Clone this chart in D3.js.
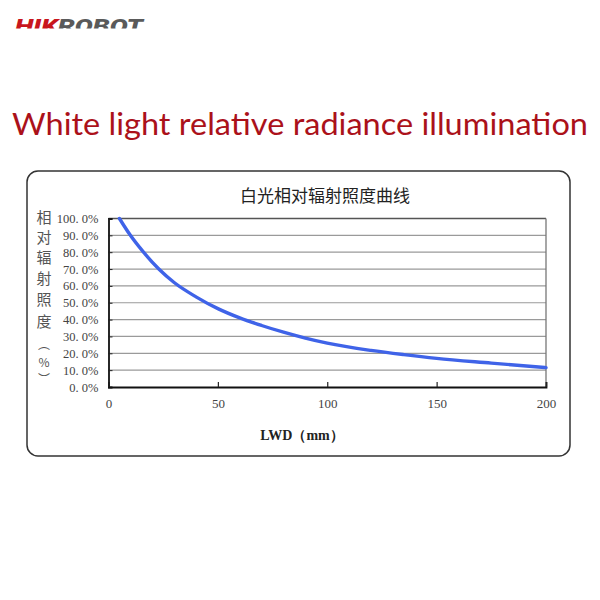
<!DOCTYPE html>
<html>
<head>
<meta charset="utf-8">
<script src="https://cdn.jsdelivr.net/npm/d3@7"></script>
<style>
  body { margin: 0; background: #fff; }
</style>
</head>
<body>
<div class="viz"></div>
<script>
// LWD (mm) vs relative irradiance (%)
const lwd = [5, 10, 16, 23, 30, 40, 50, 60, 70, 80, 90, 100, 120, 135, 150, 175, 200]
const irradiance = [100, 90, 80, 70, 62, 53.5, 46.5, 41, 36.5, 32.5, 29, 26, 21.7, 19.2, 17, 14.2, 11.5]

const xTicks = [0, 50, 100, 150, 200]
const yTicks = [0, 10, 20, 30, 40, 50, 60, 70, 80, 90, 100]

const mainTitle = 'White light relative radiance illumination'
const chartTitle = '白光相对辐射照度曲线'
const yLabelChars = ['相', '对', '辐', '射', '照', '度', '︵', '%', '︶']
const xLabel = 'LWD（mm）'

const width = 600
const height = 600
const plot = { left: 108.5, right: 546, top: 218.5, bottom: 387 }

const svg = d3.select('.viz')
  .append('svg')
  .attr('width', width)
  .attr('height', height)

// logo, cut off at the bottom like the reference
svg.append('clipPath').attr('id', 'logoClip')
  .append('rect').attr('x', 0).attr('y', 0).attr('width', 200).attr('height', 28.5)

const logo = svg.append('text')
  .attr('clip-path', 'url(#logoClip)')
  .attr('x', 15)
  .attr('y', 33)
  .attr('font-family', 'Roboto, sans-serif')
  .attr('font-weight', 900)
  .attr('font-style', 'italic')
  .attr('font-size', 20)
  .attr('textLength', 128)
  .attr('lengthAdjust', 'spacingAndGlyphs')
logo.append('tspan').attr('fill', '#c8161d').text('HIK')
logo.append('tspan').attr('fill', '#5a5a5a').text('ROBOT')

// big red heading
svg.append('text')
  .text(mainTitle)
  .attr('x', 12)
  .attr('y', 135)
  .attr('font-family', 'Lato, sans-serif')
  .attr('font-size', 30)
  .attr('fill', '#ab111a')
  .attr('textLength', 576)
  .attr('lengthAdjust', 'spacingAndGlyphs')

// chart frame
svg.append('rect')
  .attr('x', 27)
  .attr('y', 171)
  .attr('width', 543)
  .attr('height', 285)
  .attr('rx', 11)
  .attr('fill', 'none')
  .attr('stroke', '#333')
  .attr('stroke-width', 1.5)

svg.append('text')
  .text(chartTitle)
  .attr('x', 325)
  .attr('y', 202)
  .attr('text-anchor', 'middle')
  .attr('font-family', '"Noto Sans CJK SC", sans-serif')
  .attr('font-size', 17)
  .attr('fill', '#222')

const x = d3.scaleLinear().domain([0, 200]).range([plot.left, plot.right])
const y = d3.scaleLinear().domain([0, 100]).range([plot.bottom, plot.top])

// horizontal gridlines
svg.append('g')
  .selectAll('line')
  .data(yTicks.filter(d => d > 0))
  .enter()
  .append('line')
  .attr('x1', plot.left)
  .attr('x2', plot.right)
  .attr('y1', d => y(d))
  .attr('y2', d => y(d))
  .attr('stroke', d => d === 100 ? '#555' : '#9a9a9a')
  .attr('stroke-width', d => d === 100 ? 1.5 : 1.2)

// right border
svg.append('line')
  .attr('x1', plot.right).attr('x2', plot.right)
  .attr('y1', plot.top).attr('y2', plot.bottom)
  .attr('stroke', '#777')
  .attr('stroke-width', 1.3)

// y axis
const yAxis = svg.append('g')
  .attr('transform', `translate(${plot.left},0)`)
  .call(d3.axisLeft(y).tickValues(yTicks).tickSize(-4).tickPadding(10)
    .tickFormat(d => d3.format('.1f')(d).replace('.', '. ') + '%'))
yAxis.select('.domain').attr('stroke', '#111').attr('stroke-width', 1.8)
yAxis.selectAll('.tick line').attr('stroke', '#222')
yAxis.selectAll('text')
  .attr('font-family', '"Liberation Serif", serif')
  .attr('font-size', 12.5)
  .attr('fill', '#444')

// x axis
const xAxis = svg.append('g')
  .attr('transform', `translate(0,${plot.bottom})`)
  .call(d3.axisBottom(x).tickValues(xTicks).tickSize(-5).tickPadding(12))
xAxis.select('.domain').attr('stroke', '#111').attr('stroke-width', 1.8)
xAxis.selectAll('.tick line').attr('stroke', '#222').attr('stroke-width', 1.2)
xAxis.selectAll('text')
  .attr('font-family', '"Liberation Serif", serif')
  .attr('font-size', 13)
  .attr('fill', '#444')

// the curve
const line = d3.line()
  .x(d => x(d[0]))
  .y(d => y(d[1]))
  .curve(d3.curveMonotoneX)

svg.append('path')
  .datum(d3.zip(lwd, irradiance))
  .attr('d', line)
  .attr('fill', 'none')
  .attr('stroke', '#3f63e8')
  .attr('stroke-width', 3.4)
  .attr('stroke-linecap', 'round')

// vertical y label, one glyph per row
const yLabelPos = [218, 238, 258, 279, 300, 322, 345, 363, 380]
svg.append('g')
  .selectAll('text')
  .data(yLabelChars)
  .enter()
  .append('text')
  .text(d => d)
  .attr('x', 44)
  .attr('y', (d, i) => yLabelPos[i])
  .attr('dy', '0.36em')
  .attr('text-anchor', 'middle')
  .attr('font-family', '"Noto Sans CJK SC", sans-serif')
  .attr('font-size', (d, i) => i >= 6 ? 12 : 15)
  .attr('fill', '#555')

svg.append('text')
  .text(xLabel)
  .attr('x', 302)
  .attr('y', 440)
  .attr('text-anchor', 'middle')
  .attr('font-family', '"Liberation Serif", serif')
  .attr('font-weight', 'bold')
  .attr('font-size', 14)
  .attr('fill', '#222')
</script>
</body>
</html>
